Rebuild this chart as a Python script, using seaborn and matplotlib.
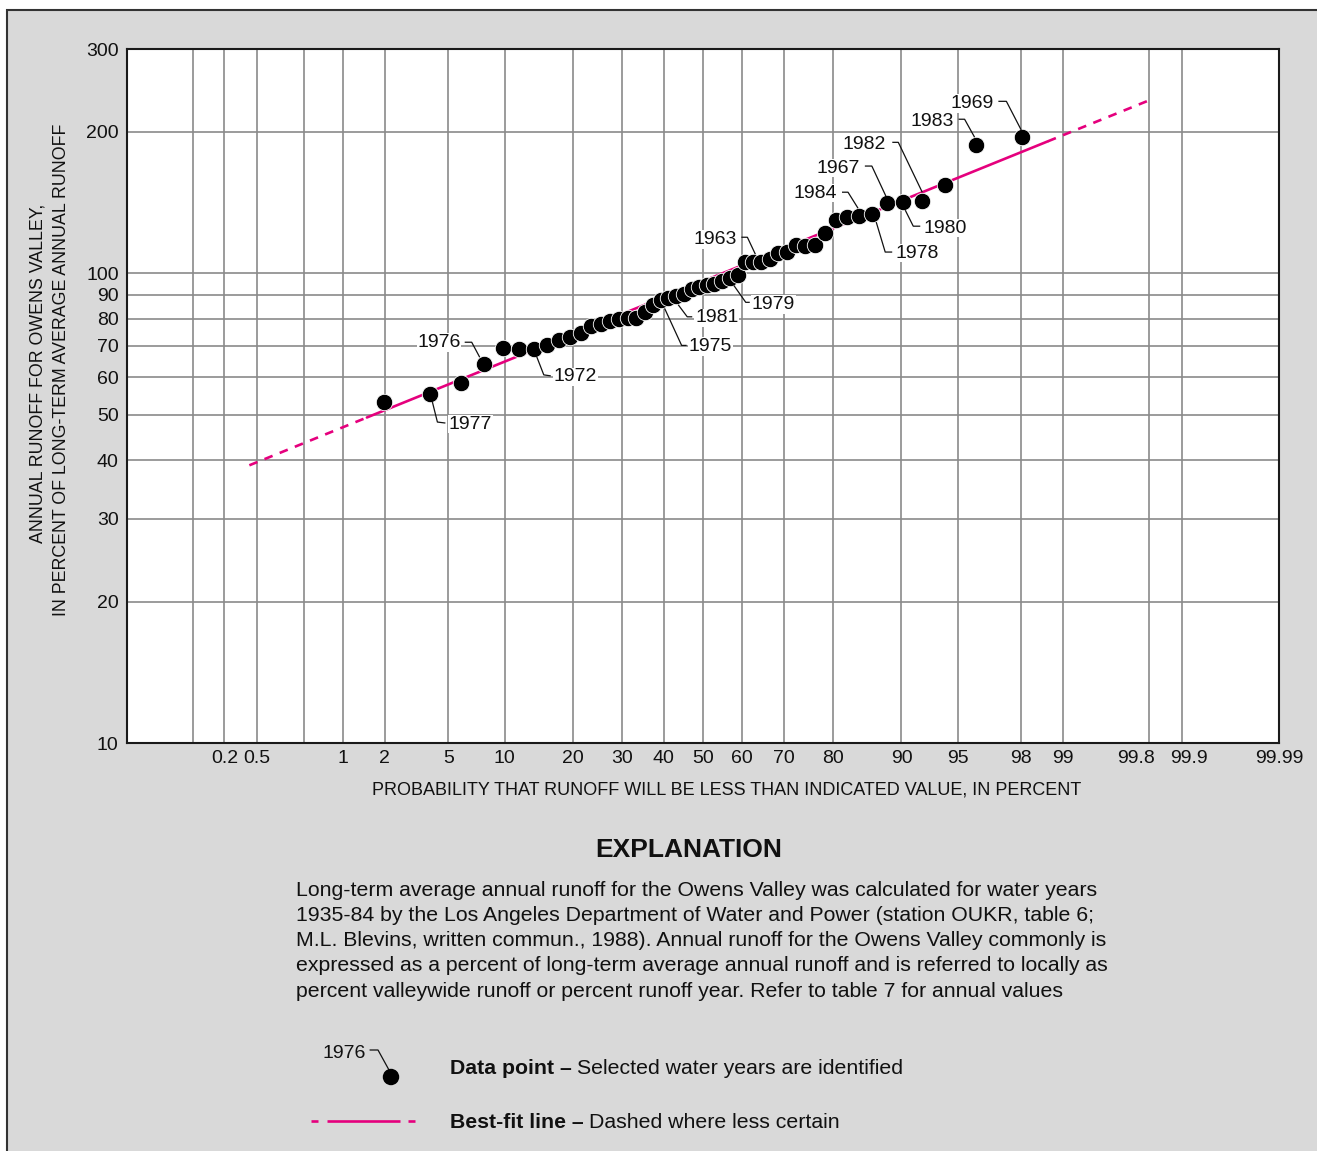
import numpy as np
import pandas as pd
import matplotlib
matplotlib.use("Agg")
import matplotlib.pyplot as plt
import seaborn as sns
from statistics import NormalDist
from matplotlib.patches import Rectangle
from matplotlib.ticker import NullLocator
from matplotlib.transforms import ScaledTranslation

# ---------------- data ----------------
# plotting positions (percent) for water years 1935-84
prob = [1.96, 3.92, 5.88, 7.84, 9.80, 11.76, 13.73, 15.69, 17.65, 19.61,
        21.57, 23.53, 25.49, 27.45, 29.41, 31.37, 33.33, 35.29, 37.25, 39.22,
        41.18, 43.14, 45.10, 47.06, 49.02, 50.98, 52.94, 54.90, 56.86, 58.82,
        60.78, 62.75, 64.71, 66.67, 68.63, 70.59, 72.55, 74.51, 76.47, 78.43,
        80.39, 82.35, 84.31, 86.27, 88.24, 90.20, 92.16, 94.12, 96.08, 98.04]
runoff = [53.2, 55.3, 58.3, 64.0, 69.2, 69.0, 69.0, 70.3, 72.0, 73.3,
          74.5, 77.1, 78.0, 79.0, 79.8, 80.2, 80.2, 82.6, 85.5, 87.5,
          88.5, 89.5, 90.5, 92.5, 93.5, 94.5, 95.0, 96.0, 97.5, 99.0,
          105.5, 105.5, 105.5, 107.1, 110.3, 110.8, 114.8, 114.1, 114.8, 121.7,
          129.6, 131.6, 132.2, 133.6, 141.0, 141.6, 142.2, 153.8, 187.2, 194.6]

label_years = [1977, 1976, 1972, 1975, 1981, 1979, 1963, 1984, 1978, 1967, 1980, 1982, 1983, 1969]
label_rank = [2, 4, 7, 20, 22, 29, 32, 43, 44, 45, 46, 47, 49, 50]

fit_low_prob, fit_low_runoff = [0.17, 1.5], [39.0, 49.3]
fit_mid_prob, fit_mid_runoff = [1.5, 98.7], [49.3, 190.8]
fit_high_prob, fit_high_runoff = [98.7, 99.82], [190.8, 235.5]

x_ticks = [0.05, 0.1, 0.2, 0.5, 1, 2, 5, 10, 20, 30, 40, 50, 60, 70, 80, 90,
           95, 98, 99, 99.8, 99.9, 99.99]
x_tick_labels = ["", "0.2", "0.5", "", "1", "2", "5", "10", "20", "30", "40",
                 "50", "60", "70", "80", "90", "95", "98", "99", "99.8", "99.9", "99.99"]
y_ticks = [10, 20, 30, 40, 50, 60, 70, 80, 90, 100, 200, 300]
y_tick_labels = ["10", "20", "30", "40", "50", "60", "70", "80", "90", "100", "200", "300"]

x_label = "PROBABILITY THAT RUNOFF WILL BE LESS THAN INDICATED VALUE, IN PERCENT"
y_label_lines = ["ANNUAL RUNOFF FOR OWENS VALLEY,",
                 "IN PERCENT OF LONG-TERM AVERAGE ANNUAL RUNOFF"]
expl_title = "EXPLANATION"
expl_lines = [
    "Long-term average annual runoff for the Owens Valley was calculated for water years",
    "1935-84 by the Los Angeles Department of Water and Power (station OUKR, table 6;",
    "M.L. Blevins, written commun., 1988). Annual runoff for the Owens Valley commonly is",
    "expressed as a percent of long-term average annual runoff and is referred to locally as",
    "percent valleywide runoff or percent runoff year. Refer to table 7 for annual values",
]

# ---------------- style ----------------
W, H = 1317, 1151
MAGENTA = "#E5007D"
BG = "#d9d9d9"
INK = "#111111"
sns.set_style("white")
SANS = ["Liberation Sans", "Arimo", "DejaVu Sans"]
plt.rcParams["font.family"] = SANS
plt.rcParams["font.size"] = 14

fig = plt.figure(figsize=(W / 100, H / 100), dpi=100)
fig.patch.set_facecolor("white")

bg = fig.add_axes([0, 0, 1, 1], zorder=0)
bg.set_xlim(0, W)
bg.set_ylim(0, H)
bg.axis("off")
bg.add_patch(Rectangle((7, -20), W + 20, H - 10 + 20, facecolor=BG,
                       edgecolor="#333333", lw=1.5))

ax = fig.add_axes([127 / W, (H - 743) / H, 1152 / W, 694 / H], zorder=1)
ax.set_facecolor("white")

_nd = NormalDist()
_vinv = np.vectorize(_nd.inv_cdf, otypes=[float])
_vcdf = np.vectorize(_nd.cdf, otypes=[float])


def _fwd(p):
    p = np.asarray(p, dtype=float)
    q = np.clip(p / 100.0, 1e-10, 1 - 1e-10)
    return _vinv(q)


def _inv(z):
    z = np.asarray(z, dtype=float)
    return 100.0 * _vcdf(z)


ax.set_xscale("function", functions=(_fwd, _inv))
ax.set_yscale("log")

df = pd.DataFrame({"prob": prob, "runoff": runoff})

dash = (0, (3.3, 2.9))
sns.lineplot(x=fit_low_prob, y=fit_low_runoff, ax=ax, color=MAGENTA, lw=1.9,
             linestyle=dash, zorder=2)
sns.lineplot(x=fit_mid_prob, y=fit_mid_runoff, ax=ax, color=MAGENTA, lw=1.9, zorder=2)
sns.lineplot(x=fit_high_prob, y=fit_high_runoff, ax=ax, color=MAGENTA, lw=1.9,
             linestyle=dash, zorder=2)
sns.scatterplot(data=df, x="prob", y="runoff", ax=ax, s=140, color="black",
                edgecolor="white", linewidth=0.6, zorder=3, legend=False)

ax.set_xlim(0.01, 99.99)
ax.set_ylim(10, 300)
ax.set_xticks(x_ticks)
ax.set_xticklabels(x_tick_labels)
ax.set_yticks(y_ticks)
ax.set_yticklabels(y_tick_labels)
ax.xaxis.set_minor_locator(NullLocator())
ax.yaxis.set_minor_locator(NullLocator())
ax.tick_params(axis="both", length=0, labelsize=14, colors=INK)
ax.tick_params(axis="x", pad=5)
ax.tick_params(axis="y", pad=6)
ax.grid(True, which="major", color="#8a8a8a", lw=1.2)
ax.set_axisbelow(True)
for s in ax.spines.values():
    s.set_color("#1a1a1a")
    s.set_linewidth(1.5)
ax.set_xlabel("")
ax.set_ylabel("")

# nudge crowded tick labels as in the reference
nudges = {"99.8": -13, "99.9": 7}
for lab in ax.get_xticklabels():
    if lab.get_text() in nudges:
        lab.set_transform(lab.get_transform() +
                          ScaledTranslation(nudges[lab.get_text()] / 100, 0, fig.dpi_scale_trans))

# ---------------- overlay (pixel coordinates, y up) ----------------
ov = fig.add_axes([0, 0, 1, 1], zorder=5)
ov.set_xlim(0, W)
ov.set_ylim(0, H)
ov.axis("off")
ov.patch.set_alpha(0)

disp = ax.transData.transform(np.column_stack([prob, runoff]))

# per label: text offset, alignment, leader polyline offsets (px, y up)
label_geom = {
    1977: ((18, -30), "left", [(2, -8), (7, -28), (15, -29)]),
    1976: ((-23, 22), "right", [(-19, 22), (-12, 22), (-4, 7)]),
    1972: ((20, -28), "left", [(3, -8), (10, -26), (17, -27)]),
    1975: ((28, -46), "left", [(4, -8), (21, -45), (26, -45)]),
    1981: ((19, -22), "left", [(2, -9), (11, -21), (16, -21)]),
    1979: ((22, -26), "left", [(4, -7), (16, -24), (20, -24)]),
    1963: ((-16, 23), "right", [(-12, 25), (-6, 25), (2, 8)]),
    1984: ((-22, 23), "right", [(-17, 24), (-11, 24), (-1, 8)]),
    1978: ((23, -39), "left", [(4, -8), (13, -38), (20, -38)]),
    1967: ((-27, 35), "right", [(-22, 37), (-15, 37), (-1, 7)]),
    1980: ((20, -26), "left", [(2, -8), (10, -24), (17, -24)]),
    1982: ((-36, 57), "right", [(-30, 59), (-24, 59), (0, 9)]),
    1983: ((-22, 24), "right", [(-17, 26), (-11, 26), (-1, 8)]),
    1969: ((-29, 34), "right", [(-24, 36), (-16, 36), (-1, 7)]),
}
for yr, rk in zip(label_years, label_rank):
    x0, y0 = disp[rk - 1]
    (tdx, tdy), ha, poly = label_geom[yr]
    ov.plot([x0 + a for a, b in poly], [y0 + b for a, b in poly],
            color=INK, lw=0.9, solid_capstyle="butt")
    ov.text(x0 + tdx, y0 + tdy, str(yr), ha=ha, va="center", fontsize=14,
            color=INK, bbox=dict(facecolor="white", edgecolor="none", pad=0.6))

# axis titles
ov.text(727, H - 790, x_label, ha="center", va="center", fontsize=13, color=INK)
ov.text(38, H - 373, y_label_lines[0], ha="center", va="center", rotation=90,
        fontsize=12.8, color=INK)
ov.text(62, H - 370, y_label_lines[1], ha="center", va="center", rotation=90,
        fontsize=12.8, color=INK)

# explanation
ov.text(689, H - 850, expl_title, ha="center", va="center", fontsize=19,
        fontweight="bold", color=INK)
for i, line in enumerate(expl_lines):
    ov.text(296, H - (890 + i * 25.3), line, ha="left", va="center",
            fontsize=15.3, color=INK)

# legend: data point
ov.scatter([391], [H - 1077], s=140, color="black", edgecolor="none", zorder=6)
ov.plot([370, 378, 389], [H - 1050, H - 1050, H - 1070], color=INK, lw=0.9)
ov.text(366, H - 1053, "1976", ha="right", va="center", fontsize=14, color=INK)

renderer = fig.canvas.get_renderer()
for (yy, bold_txt, reg_txt) in [(1068, "Data point \u2013", "Selected water years are identified"),
                                (1122, "Best-fit line \u2013", "Dashed where less certain")]:
    t1 = ov.text(450, H - yy, bold_txt, ha="left", va="center", fontsize=15.3,
                 fontweight="bold", color=INK)
    bb = t1.get_window_extent(renderer)
    ov.text(bb.x1 + 5, H - yy, reg_txt, ha="left", va="center", fontsize=15.3,
            color=INK)

# legend: best-fit line sample
for xa, xb in [(311, 318), (327, 400), (408, 415)]:
    ov.plot([xa, xb], [H - 1121, H - 1121], color=MAGENTA, lw=1.9, solid_capstyle="butt")

fig.savefig("out.png", dpi=100, facecolor=fig.get_facecolor())
